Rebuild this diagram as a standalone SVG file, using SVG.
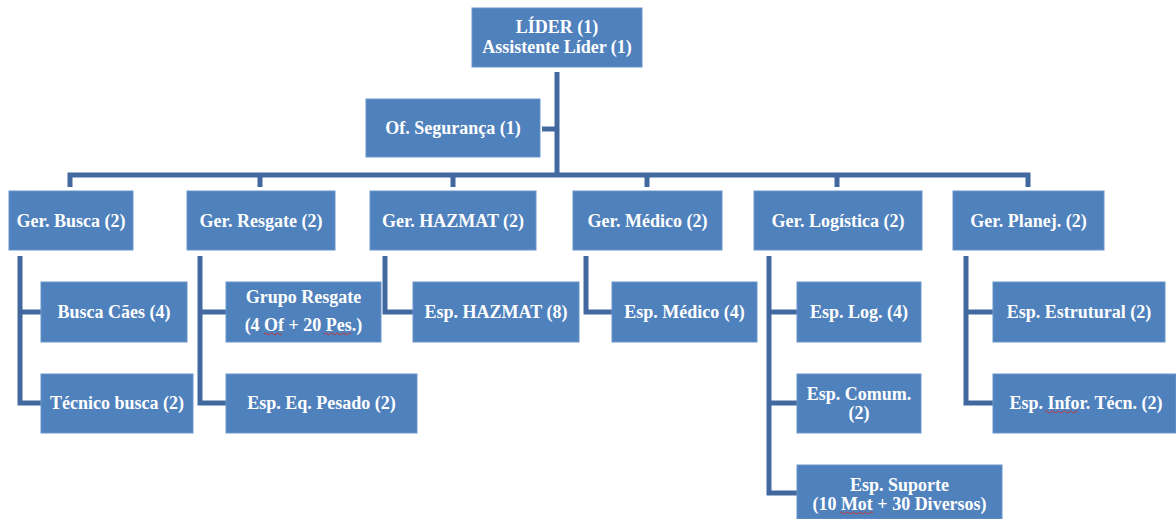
<svg xmlns="http://www.w3.org/2000/svg" width="1176" height="519" viewBox="0 0 1176 519">
  <style>
    .box { fill: #4F81BD; stroke: #6A95CB; stroke-width: 1; }
    .lbl { font-family: "Liberation Serif", "Times New Roman", serif; font-weight: bold; font-size: 18px; fill: #FFFFFF; text-anchor: middle; }
    .ln { fill: none; stroke: #4169A0; stroke-width: 5; stroke-linejoin: miter; }
    .sq { fill: none; stroke: #D03030; stroke-width: 0.9; }
  </style>

  <!-- connectors -->
  <g id="connectors">
    <!-- trunk from the leader down to the manager bar -->
    <path class="ln" d="M557,72 V175" stroke-width="6"/>
    <!-- safety officer stub -->
    <path class="ln" d="M542,129 H557"/>
    <!-- manager bar with drops -->
    <path class="ln" d="M70,187 V175 H1028 V187" stroke-linejoin="round"/>
    <path class="ln" d="M260,175 V187"/>
    <path class="ln" d="M453,175 V187"/>
    <path class="ln" d="M647,175 V187"/>
    <path class="ln" d="M837,175 V187"/>
    <!-- Busca -->
    <path class="ln" d="M20,256 V403 H41 M20,312 H41"/>
    <!-- Resgate -->
    <path class="ln" d="M200,256 V403 H226 M200,312 H226"/>
    <!-- HAZMAT -->
    <path class="ln" d="M385,256 V312 H413"/>
    <!-- Medico -->
    <path class="ln" d="M586,256 V312 H612"/>
    <!-- Logistica -->
    <path class="ln" d="M769,256 V493 H797 M769,312 H797 M769,403 H797"/>
    <!-- Planej -->
    <path class="ln" d="M966,256 V403 H993 M966,312 H993"/>
  </g>

  <!-- top level -->
  <g id="lider">
    <rect class="box" x="472" y="8" width="170" height="59"/>
    <text class="lbl" x="557" y="33">LÍDER (1)</text>
    <text class="lbl" x="557" y="53">Assistente Líder (1)</text>
  </g>
  <g id="of-seguranca">
    <rect class="box" x="366" y="99" width="174" height="58"/>
    <text class="lbl" x="453" y="134">Of. Segurança (1)</text>
  </g>

  <!-- managers -->
  <g id="ger-busca">
    <rect class="box" x="9" y="191" width="124" height="59"/>
    <text class="lbl" x="71" y="227">Ger. Busca (2)</text>
  </g>
  <g id="ger-resgate">
    <rect class="box" x="187" y="191" width="148" height="59"/>
    <text class="lbl" x="261" y="227">Ger. Resgate (2)</text>
  </g>
  <g id="ger-hazmat">
    <rect class="box" x="370" y="191" width="166" height="59"/>
    <text class="lbl" x="453" y="227">Ger. HAZMAT (2)</text>
  </g>
  <g id="ger-medico">
    <rect class="box" x="573" y="191" width="149" height="59"/>
    <text class="lbl" x="647.5" y="227">Ger. Médico (2)</text>
  </g>
  <g id="ger-logistica">
    <rect class="box" x="754" y="191" width="168" height="59"/>
    <text class="lbl" x="838" y="227">Ger. Logística (2)</text>
  </g>
  <g id="ger-planej">
    <rect class="box" x="953" y="191" width="151" height="59"/>
    <text class="lbl" x="1028.5" y="227">Ger. Planej. (2)</text>
  </g>

  <!-- specialists -->
  <g id="busca-caes">
    <rect class="box" x="41" y="282" width="146" height="60"/>
    <text class="lbl" x="114" y="318">Busca Cães (4)</text>
  </g>
  <g id="tecnico-busca">
    <rect class="box" x="41" y="374" width="152" height="59"/>
    <text class="lbl" x="117" y="409">Técnico busca (2)</text>
  </g>
  <g id="grupo-resgate">
    <rect class="box" x="226" y="282" width="155" height="60"/>
    <text class="lbl" x="303.5" y="303">Grupo Resgate</text>
    <text class="lbl" x="303.5" y="331">(4 Of + 20 Pes.)</text>
    <path class="sq" d="M264,334 q1.5,-2 3,0 t3,0 t3,0 t3,0 t3,0 t3,0"/>
    <path class="sq" d="M324,334 q1.5,-2 3,0 t3,0 t3,0 t3,0 t3,0 t3,0 t3,0 t3,0 t3,0"/>
  </g>
  <g id="esp-eq-pesado">
    <rect class="box" x="226" y="374" width="191" height="59"/>
    <text class="lbl" x="321.5" y="409">Esp. Eq. Pesado (2)</text>
  </g>
  <g id="esp-hazmat">
    <rect class="box" x="413" y="282" width="166" height="60"/>
    <text class="lbl" x="496" y="318">Esp. HAZMAT (8)</text>
  </g>
  <g id="esp-medico">
    <rect class="box" x="612" y="282" width="145" height="60"/>
    <text class="lbl" x="684.5" y="318">Esp. Médico (4)</text>
  </g>
  <g id="esp-log">
    <rect class="box" x="797" y="282" width="124" height="60"/>
    <text class="lbl" x="859" y="318">Esp. Log. (4)</text>
  </g>
  <g id="esp-comum">
    <rect class="box" x="797" y="374" width="124" height="59"/>
    <text class="lbl" x="859" y="400">Esp. Comum.</text>
    <text class="lbl" x="859" y="419">(2)</text>
  </g>
  <g id="esp-suporte">
    <rect class="box" x="797" y="465" width="205" height="54"/>
    <text class="lbl" x="899.5" y="491">Esp. Suporte</text>
    <text class="lbl" x="899.5" y="510">(10 Mot + 30 Diversos)</text>
    <path class="sq" d="M840,513 q1.5,-2 3,0 t3,0 t3,0 t3,0 t3,0 t3,0 t3,0 t3,0 t3,0 t3,0 t3,0"/>
  </g>
  <g id="esp-estrutural">
    <rect class="box" x="993" y="282" width="172" height="60"/>
    <text class="lbl" x="1079" y="318">Esp. Estrutural (2)</text>
  </g>
  <g id="esp-infor-tecn">
    <rect class="box" x="993" y="374" width="183" height="59"/>
    <text class="lbl" x="1086" y="409">Esp. Infor. Técn. (2)</text>
    <path class="sq" d="M1045,412 q1.5,-2 3,0 t3,0 t3,0 t3,0 t3,0 t3,0 t3,0 t3,0 t3,0 t3,0 t3,0"/>
  </g>
</svg>
